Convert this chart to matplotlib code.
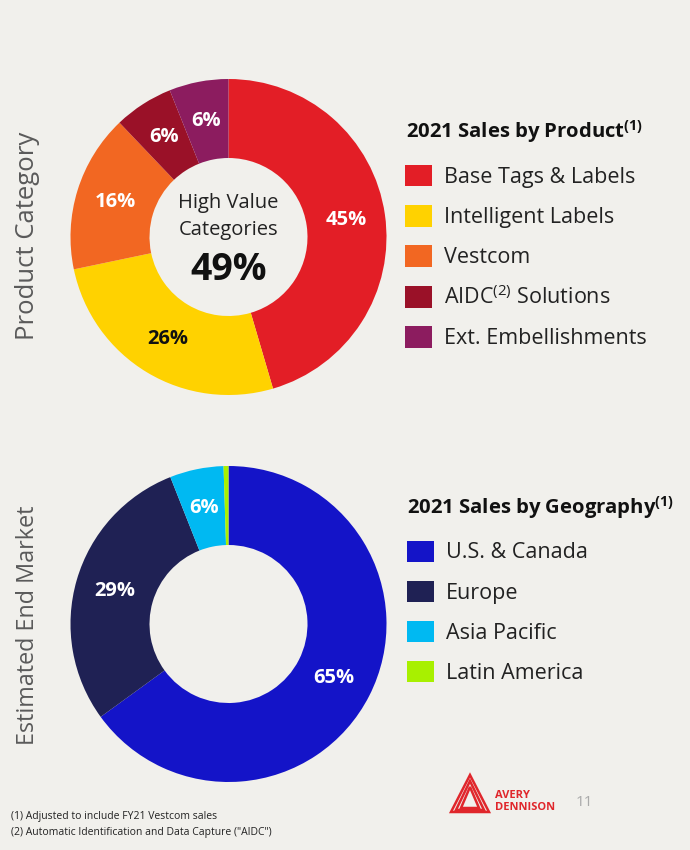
import numpy as np
import matplotlib
matplotlib.use("Agg")
import matplotlib.pyplot as plt
from matplotlib.patches import Polygon

plt.rcParams['font.family'] = ['Open Sans', 'DejaVu Sans']
plt.rcParams['mathtext.fontset'] = 'custom'
plt.rcParams['mathtext.rm'] = 'Open Sans'

# datos
prod_cats = ['Base Tags & Labels', 'Intelligent Labels', 'Vestcom',
             'AIDC$^{\\mathregular{(2)}}$ Solutions', 'Ext. Embellishments']
prod_vals = [45, 26, 16, 6, 6]
prod_lbls = ['45%', '26%', '16%', '6%', '6%']
prod_cols = ['#E31E26', '#FFD200', '#F26722', '#9A1128', '#8C1C5F']
prod_txt = ['white', '#111111', 'white', 'white', 'white']

geo_cats = ['U.S. & Canada', 'Europe', 'Asia Pacific', 'Latin America']
geo_vals = [65, 29, 5.5, 0.5]
geo_lbls = ['65%', '29%', '6%', '']
geo_cols = ['#1414C8', '#1F2154', '#00B9F2', '#A8F000']

bg = '#F1F0EC'
W, H = 690, 850

def fx(x):
    return x / W

def fy(y):
    return 1 - y / H

fig = plt.figure(figsize=(6.9, 8.5), dpi=100, facecolor=bg)


def donut(rect, vals, cols, lbls, txtcols):
    ax = fig.add_axes(rect)
    ax.set_facecolor(bg)
    wedges, _ = ax.pie(vals, colors=cols, startangle=90, counterclock=False,
                       radius=1, wedgeprops=dict(width=0.5, linewidth=0))
    for w, l, c in zip(wedges, lbls, txtcols):
        ang = np.deg2rad((w.theta1 + w.theta2) / 2)
        ax.text(0.75 * np.cos(ang), 0.75 * np.sin(ang), l, ha='center', va='center',
                color=c, fontsize=14.5, fontweight='bold')
    ax.set_xlim(-1, 1)
    ax.set_ylim(-1, 1)
    ax.set_aspect('equal')
    ax.axis('off')
    return ax, wedges


# dona de producto
ax1, w1 = donut([fx(70.5), fy(395), 316 / W, 316 / H], prod_vals, prod_cols, prod_lbls, prod_txt)
ax1.text(0, 0.215, 'High Value', ha='center', va='center', fontsize=14.5, color='#222222')
ax1.text(0, 0.045, 'Categories', ha='center', va='center', fontsize=14.5, color='#222222')
ax1.text(0, -0.21, '49%', ha='center', va='center', fontsize=27, fontweight='bold', color='#111111')

# dona de geografia
ax2, w2 = donut([fx(70.5), fy(782), 316 / W, 316 / H], geo_vals, geo_cols, geo_lbls,
                ['white'] * 4)

# leyendas
fs = 15.5
kw = dict(loc='upper left', frameon=False, fontsize=fs, handlelength=1.25, handleheight=1.15,
          handletextpad=0.55, labelspacing=0.8, borderpad=0, borderaxespad=0)
fig.text(fx(406), fy(132), '2021 Sales by Product$^{\\mathregular{(1)}}$', fontsize=14.6,
         fontweight='bold', va='center', color='#111111')
leg1 = fig.legend(w1, prod_cats, bbox_to_anchor=(fx(405), fy(165)), **kw)

fig.text(fx(407), fy(508), '2021 Sales by Geography$^{\\mathregular{(1)}}$', fontsize=14.6,
         fontweight='bold', va='center', color='#111111')
leg2 = fig.legend(w2, geo_cats, bbox_to_anchor=(fx(407), fy(540.5)), **kw)
for leg in (leg1, leg2):
    for t in leg.get_texts():
        t.set_color('#222222')

# etiquetas laterales
fig.text(fx(28), fy(236), 'Product Category', rotation=90, ha='center', va='center',
         fontsize=18.5, color='#5A5A5A')
fig.text(fx(28), fy(625), 'Estimated End Market', rotation=90, ha='center', va='center',
         fontsize=16.8, color='#5A5A5A')

# notas al pie
fig.text(fx(11), fy(817), '(1) Adjusted to include FY21 Vestcom sales', fontsize=7.5,
         va='center', color='#222222')
fig.text(fx(11), fy(833), '(2) Automatic Identification and Data Capture ("AIDC")', fontsize=7.5,
         va='center', color='#222222')

# logo
red = '#E0262B'
for s in (0, 5, 10):
    tri = Polygon([(fx(451 + s), fy(812 - s * 0.4)), (fx(470), fy(775 + s * 1.2)),
                   (fx(489 - s), fy(812 - s * 0.4))], closed=True, fill=False,
                  edgecolor=red, linewidth=1.8, transform=fig.transFigure)
    fig.patches.append(tri)
fig.text(fx(495), fy(796), 'AVERY', fontsize=8, fontweight='bold', color=red, va='center')
fig.text(fx(495), fy(808), 'DENNISON', fontsize=8, fontweight='bold', color=red, va='center')
fig.text(fx(576), fy(802), '11', fontsize=11, color='#AAAAAA', va='center')

fig.savefig('out.png', dpi=100, facecolor=bg)
